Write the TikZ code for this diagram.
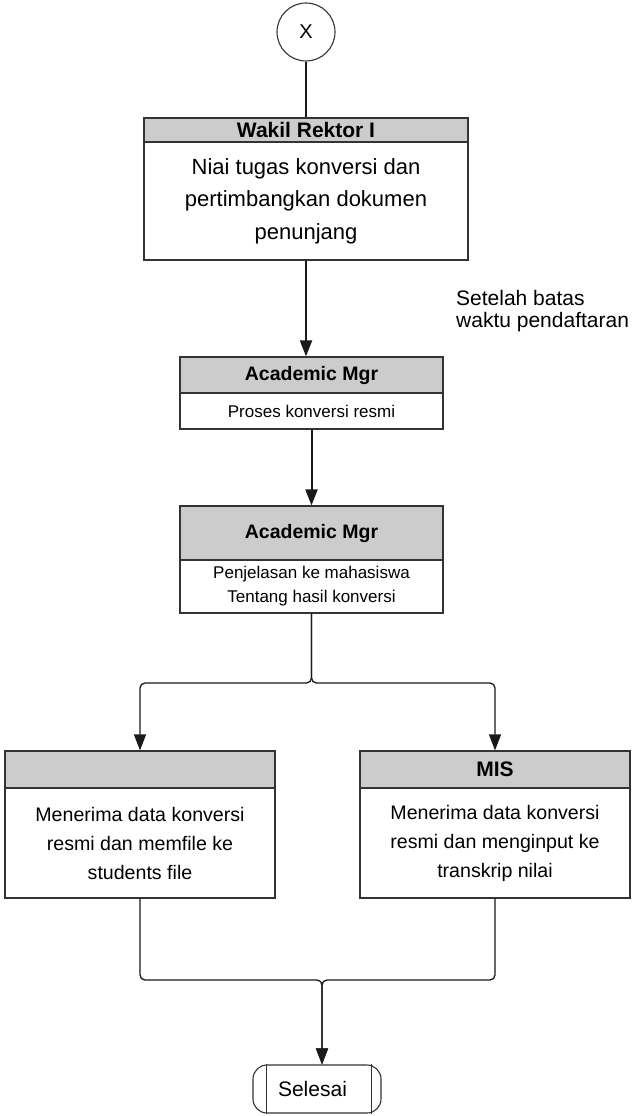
\documentclass[tikz,border=0pt]{standalone}
\usepackage{fontspec}
\setmainfont{Liberation Sans}
\usetikzlibrary{arrows.meta}
\definecolor{hdrgray}{HTML}{CCCCCC}
\definecolor{linec}{HTML}{333333}
\begin{document}
\begin{tikzpicture}[x=1pt,y=-1pt,
  box/.style={draw=linec, line width=1.2pt, inner sep=0pt, align=center},
  hbox/.style={box, fill=hdrgray},
  arr/.style={draw=black!90, line width=1.3pt, rounded corners=5pt, -{Triangle[length=16pt,width=12pt]}},
  thickarr/.style={arr, line width=2pt},
  con/.style={draw=black!90, line width=1.8pt, rounded corners=5pt}]
\useasboundingbox (0,0) rectangle (632,1116);

% start connector
\node[circle, draw=linec, line width=1.1pt, minimum size=58pt, inner sep=0pt,
      font=\fontsize{20}{24}\selectfont] (x) at (306,32) {X};

% box 1
\node[hbox, minimum width=324pt, minimum height=24pt,
      font=\bfseries\fontsize{21}{24}\selectfont] (h1) at (306,130) {Wakil Rektor I};
\node[box, minimum width=324pt, minimum height=118pt,
      font=\fontsize{22}{32.5}\selectfont] (b1) at (306,201)
      {Niai tugas konversi dan\\pertimbangkan dokumen\\penunjang};

% label
\node[anchor=west, align=left, inner sep=0pt,
      font=\fontsize{21}{22.5}\selectfont] (lbl) at (456,311)
      {Setelah batas\\waktu pendaftaran};

% box 2
\node[hbox, minimum width=263pt, minimum height=36pt,
      font=\bfseries\fontsize{19.5}{23}\selectfont] (h2) at (311.5,375) {Academic Mgr};
\node[box, minimum width=263pt, minimum height=36pt,
      font=\fontsize{17}{24}\selectfont] (b2) at (311.5,411) {Proses konversi resmi};

% box 3
\node[hbox, minimum width=263pt, minimum height=54pt,
      font=\bfseries\fontsize{19.5}{23}\selectfont] (h3) at (311.5,533) {Academic Mgr};
\node[box, minimum width=263pt, minimum height=53pt,
      font=\fontsize{17}{24}\selectfont] (b3) at (311.5,586.5)
      {Penjelasan ke mahasiswa\\Tentang hasil konversi};

% box 4
\node[hbox, minimum width=270pt, minimum height=37pt] (h4) at (140,769.5) {};
\node[box, minimum width=270pt, minimum height=110pt,
      font=\fontsize{19.6}{29}\selectfont] (b4) at (140,843)
      {Menerima data konversi\\resmi dan memfile ke\\students file};

% box 5
\node[hbox, minimum width=270pt, minimum height=37pt,
      font=\bfseries\fontsize{21}{24}\selectfont] (h5) at (495,769.5) {MIS};
\node[box, minimum width=270pt, minimum height=110pt,
      font=\fontsize{19.6}{29}\selectfont] (b5) at (495,843)
      {Menerima data konversi\\resmi dan menginput ke\\transkrip nilai};

% terminator
\node[draw=linec, line width=1.1pt, rounded corners=14pt, minimum width=128pt,
      minimum height=48pt, inner sep=0pt,
      font=\fontsize{21}{24}\selectfont] (end) at (317,1089) {Selesai\hspace*{9pt}};
\draw[linec, line width=1.1pt] ([xshift=14pt]end.north west) -- ([xshift=14pt]end.south west);
\draw[linec, line width=1.1pt] ([xshift=-10pt]end.north east) -- ([xshift=-10pt]end.south east);

% connectors
\coordinate (j1) at (311.5,683);
\coordinate (j2) at (322,980);
\draw[con] (x.south) -- (h1.north);
\draw[thickarr] (b1.south) -- (b1.south |- h2.north);
\draw[thickarr] (b2.south) -- (h3.north);
\draw[arr] (b3.south) -- (j1) -| (h4.north);
\draw[arr] (b3.south) -- (j1) -| (h5.north);
\draw[arr] (b4.south) |- (j2) -- (j2 |- end.north);
\draw[arr] (b5.south) |- (j2) -- (j2 |- end.north);
\end{tikzpicture}
\end{document}
